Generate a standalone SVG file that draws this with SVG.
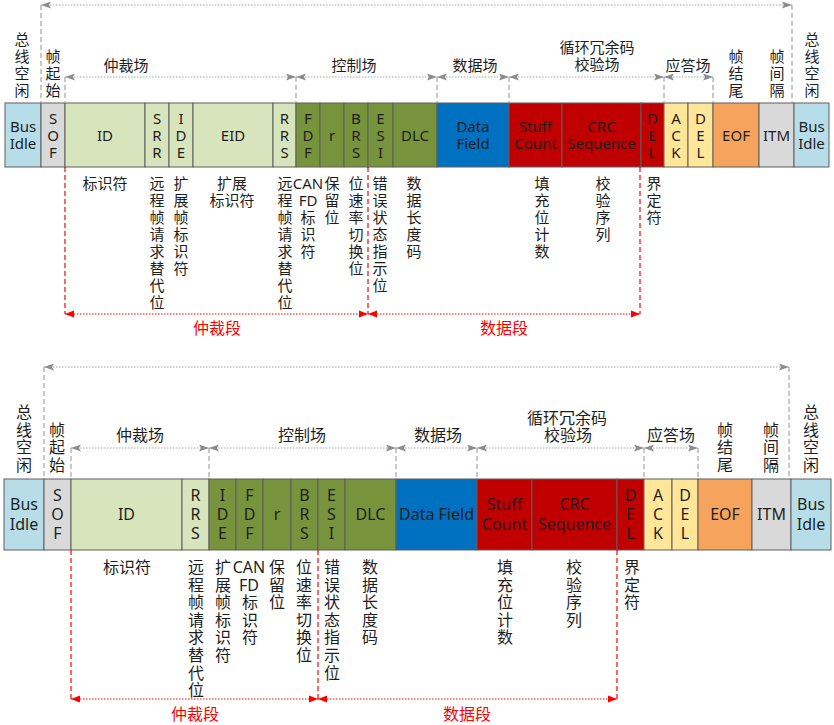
<svg xmlns="http://www.w3.org/2000/svg" width="834" height="725" viewBox="0 0 834 725">
<defs>
<marker id="ga" viewBox="0 0 10 7" markerWidth="10" markerHeight="7" refX="10" refY="3.5" orient="auto-start-reverse" markerUnits="userSpaceOnUse"><path d="M0,0 L10,3.5 L0,7 L2,3.5 z" fill="#8c8c8c"/></marker>
<marker id="ra" viewBox="0 0 10 8" markerWidth="9" markerHeight="8" refX="10" refY="4" orient="auto-start-reverse" markerUnits="userSpaceOnUse"><path d="M0,0 L10,4 L0,8 z" fill="#ff0000"/></marker>
</defs>
<style>
text{font-family:"Noto Sans","Noto Sans CJK SC",sans-serif;text-anchor:middle;dominant-baseline:central;fill:#1e1e1e}
.s15{font-size:15px}
.s16{font-size:16px}
.lab{font-size:15px}
.red{fill:#ff0000;font-size:16px}
rect{stroke:#5f5f5f;stroke-width:1}
.bi{fill:#b7dee8}.gr{fill:#d9d9d9}.lg{fill:#d8e4bc}.og{fill:#77933c}.bl{fill:#0070c0}.rd{fill:#c00000}.yl{fill:#ffe699}.or{fill:#f6a35e}
.dot{stroke:#a6a6a6;stroke-width:1;stroke-dasharray:1.5 1.5;fill:none}
.dash{stroke:#a6a6a6;stroke-width:1.2;stroke-dasharray:5 3;fill:none}
.rdot{stroke:#ff0000;stroke-width:1;stroke-dasharray:1.5 1.5;fill:none}
.rdash{stroke:#ff0000;stroke-width:1.2;stroke-dasharray:5 3;fill:none}
</style>

<!-- ===== TOP FRAME ===== -->
<g class="s15">
<g id="t-busidle-l"><rect class="bi" x="5" y="103" width="36" height="64"/><text x="23" y="126">Bus</text><text x="23" y="143">Idle</text></g>
<g id="t-sof"><rect class="gr" x="41" y="103" width="24" height="64"/><text x="53" y="118">S</text><text x="53" y="135">O</text><text x="53" y="152">F</text></g>
<g id="t-id"><rect class="lg" x="65" y="103" width="80" height="64"/><text x="105" y="135">ID</text></g>
<g id="t-srr"><rect class="lg" x="145" y="103" width="24" height="64"/><text x="157" y="118">S</text><text x="157" y="135">R</text><text x="157" y="152">R</text></g>
<g id="t-ide"><rect class="lg" x="169" y="103" width="24" height="64"/><text x="181" y="118">I</text><text x="181" y="135">D</text><text x="181" y="152">E</text></g>
<g id="t-eid"><rect class="lg" x="193" y="103" width="80" height="64"/><text x="233" y="135">EID</text></g>
<g id="t-rrs"><rect class="lg" x="273" y="103" width="23" height="64"/><text x="284.5" y="118">R</text><text x="284.5" y="135">R</text><text x="284.5" y="152">S</text></g>
<g id="t-fdf"><rect class="og" x="296" y="103" width="24" height="64"/><text x="308" y="118">F</text><text x="308" y="135">D</text><text x="308" y="152">F</text></g>
<g id="t-r"><rect class="og" x="320" y="103" width="24" height="64"/><text x="332" y="135">r</text></g>
<g id="t-brs"><rect class="og" x="344" y="103" width="24" height="64"/><text x="356" y="118">B</text><text x="356" y="135">R</text><text x="356" y="152">S</text></g>
<g id="t-esi"><rect class="og" x="368" y="103" width="25" height="64"/><text x="380.5" y="118">E</text><text x="380.5" y="135">S</text><text x="380.5" y="152">I</text></g>
<g id="t-dlc"><rect class="og" x="393" y="103" width="44" height="64"/><text x="415" y="135">DLC</text></g>
<g id="t-data"><rect class="bl" x="437" y="103" width="72" height="64"/><text x="473" y="126">Data</text><text x="473" y="143">Field</text></g>
<g id="t-stuff"><rect class="rd" x="509" y="103" width="53" height="64"/><text x="535.5" y="126">Stuff</text><text x="535.5" y="143">Count</text></g>
<g id="t-crc"><rect class="rd" x="562" y="103" width="79" height="64"/><text x="601.5" y="126">CRC</text><text x="601.5" y="143">Sequence</text></g>
<g id="t-del1"><rect class="rd" x="641" y="103" width="23" height="64"/><text x="652.5" y="118">D</text><text x="652.5" y="135">E</text><text x="652.5" y="152">L</text></g>
<g id="t-ack"><rect class="yl" x="664" y="103" width="24" height="64"/><text x="676" y="118">A</text><text x="676" y="135">C</text><text x="676" y="152">K</text></g>
<g id="t-del2"><rect class="yl" x="688" y="103" width="25" height="64"/><text x="700.5" y="118">D</text><text x="700.5" y="135">E</text><text x="700.5" y="152">L</text></g>
<g id="t-eof"><rect class="or" x="713" y="103" width="46" height="64"/><text x="736" y="135">EOF</text></g>
<g id="t-itm"><rect class="gr" x="759" y="103" width="35" height="64"/><text x="776.5" y="135">ITM</text></g>
<g id="t-busidle-r"><rect class="bi" x="794" y="103" width="35" height="64"/><text x="811.5" y="126">Bus</text><text x="811.5" y="143">Idle</text></g>
</g>

<!-- top field labels -->
<g id="t-labels" class="lab">
<text x="22" y="39"><tspan x="22">总</tspan><tspan x="22" dy="17">线</tspan><tspan x="22" dy="17">空</tspan><tspan x="22" dy="17">闲</tspan></text>
<text x="53" y="56"><tspan x="53">帧</tspan><tspan x="53" dy="17">起</tspan><tspan x="53" dy="17">始</tspan></text>
<text x="126" y="65">仲裁场</text>
<text x="354" y="65">控制场</text>
<text x="475" y="65">数据场</text>
<text x="597" y="47">循环冗余码</text>
<text x="597" y="64">校验场</text>
<text x="688" y="65">应答场</text>
<text x="736" y="56"><tspan x="736">帧</tspan><tspan x="736" dy="17">结</tspan><tspan x="736" dy="17">尾</tspan></text>
<text x="777" y="56"><tspan x="777">帧</tspan><tspan x="777" dy="17">间</tspan><tspan x="777" dy="17">隔</tspan></text>
<text x="812" y="39"><tspan x="812">总</tspan><tspan x="812" dy="17">线</tspan><tspan x="812" dy="17">空</tspan><tspan x="812" dy="17">闲</tspan></text>
</g>

<!-- top descriptions -->
<g id="t-desc" class="lab">
<text x="105" y="183">标识符</text>
<text x="157" y="183"><tspan x="157">远</tspan><tspan x="157" dy="17">程</tspan><tspan x="157" dy="17">帧</tspan><tspan x="157" dy="17">请</tspan><tspan x="157" dy="17">求</tspan><tspan x="157" dy="17">替</tspan><tspan x="157" dy="17">代</tspan><tspan x="157" dy="17">位</tspan></text>
<text x="181" y="183"><tspan x="181">扩</tspan><tspan x="181" dy="17">展</tspan><tspan x="181" dy="17">帧</tspan><tspan x="181" dy="17">标</tspan><tspan x="181" dy="17">识</tspan><tspan x="181" dy="17">符</tspan></text>
<text x="232" y="183"><tspan x="232">扩展</tspan><tspan x="232" dy="17">标识符</tspan></text>
<text x="285" y="183"><tspan x="285">远</tspan><tspan x="285" dy="17">程</tspan><tspan x="285" dy="17">帧</tspan><tspan x="285" dy="17">请</tspan><tspan x="285" dy="17">求</tspan><tspan x="285" dy="17">替</tspan><tspan x="285" dy="17">代</tspan><tspan x="285" dy="17">位</tspan></text>
<text x="308" y="183"><tspan x="308">CAN</tspan><tspan x="308" dy="17">FD</tspan><tspan x="308" dy="17">标</tspan><tspan x="308" dy="17">识</tspan><tspan x="308" dy="17">符</tspan></text>
<text x="332" y="183"><tspan x="332">保</tspan><tspan x="332" dy="17">留</tspan><tspan x="332" dy="17">位</tspan></text>
<text x="356" y="183"><tspan x="356">位</tspan><tspan x="356" dy="17">速</tspan><tspan x="356" dy="17">率</tspan><tspan x="356" dy="17">切</tspan><tspan x="356" dy="17">换</tspan><tspan x="356" dy="17">位</tspan></text>
<text x="380" y="183"><tspan x="380">错</tspan><tspan x="380" dy="17">误</tspan><tspan x="380" dy="17">状</tspan><tspan x="380" dy="17">态</tspan><tspan x="380" dy="17">指</tspan><tspan x="380" dy="17">示</tspan><tspan x="380" dy="17">位</tspan></text>
<text x="414" y="183"><tspan x="414">数</tspan><tspan x="414" dy="17">据</tspan><tspan x="414" dy="17">长</tspan><tspan x="414" dy="17">度</tspan><tspan x="414" dy="17">码</tspan></text>
<text x="542" y="183"><tspan x="542">填</tspan><tspan x="542" dy="17">充</tspan><tspan x="542" dy="17">位</tspan><tspan x="542" dy="17">计</tspan><tspan x="542" dy="17">数</tspan></text>
<text x="603" y="183"><tspan x="603">校</tspan><tspan x="603" dy="17">验</tspan><tspan x="603" dy="17">序</tspan><tspan x="603" dy="17">列</tspan></text>
<text x="654" y="183"><tspan x="654">界</tspan><tspan x="654" dy="17">定</tspan><tspan x="654" dy="17">符</tspan></text>
<text class="red" x="217" y="328">仲裁段</text>
<text class="red" x="504" y="328">数据段</text>
</g>

<!-- ===== BOTTOM FRAME ===== -->
<g class="s16">
<g id="b-busidle-l"><rect class="bi" x="4" y="479" width="40" height="71"/><text x="24" y="504">Bus</text><text x="24" y="524">Idle</text></g>
<g id="b-sof"><rect class="gr" x="44" y="479" width="27" height="71"/><text x="57.5" y="495">S</text><text x="57.5" y="514">O</text><text x="57.5" y="533">F</text></g>
<g id="b-id"><rect class="lg" x="71" y="479" width="111" height="71"/><text x="126.5" y="514">ID</text></g>
<g id="b-rrs"><rect class="lg" x="182" y="479" width="27" height="71"/><text x="195.5" y="495">R</text><text x="195.5" y="514">R</text><text x="195.5" y="533">S</text></g>
<g id="b-ide"><rect class="og" x="209" y="479" width="27" height="71"/><text x="222.5" y="495">I</text><text x="222.5" y="514">D</text><text x="222.5" y="533">E</text></g>
<g id="b-fdf"><rect class="og" x="236" y="479" width="27" height="71"/><text x="249.5" y="495">F</text><text x="249.5" y="514">D</text><text x="249.5" y="533">F</text></g>
<g id="b-r"><rect class="og" x="263" y="479" width="28" height="71"/><text x="277" y="514">r</text></g>
<g id="b-brs"><rect class="og" x="291" y="479" width="27" height="71"/><text x="304.5" y="495">B</text><text x="304.5" y="514">R</text><text x="304.5" y="533">S</text></g>
<g id="b-esi"><rect class="og" x="318" y="479" width="27" height="71"/><text x="331.5" y="495">E</text><text x="331.5" y="514">S</text><text x="331.5" y="533">I</text></g>
<g id="b-dlc"><rect class="og" x="345" y="479" width="51" height="71"/><text x="370.5" y="514">DLC</text></g>
<g id="b-data"><rect class="bl" x="396" y="479" width="81" height="71"/><text x="436.5" y="514">Data Field</text></g>
<g id="b-stuff"><rect class="rd" x="477" y="479" width="55" height="71"/><text x="504.5" y="504">Stuff</text><text x="504.5" y="524">Count</text></g>
<g id="b-crc"><rect class="rd" x="532" y="479" width="85" height="71"/><text x="574.5" y="504">CRC</text><text x="574.5" y="524">Sequence</text></g>
<g id="b-del1"><rect class="rd" x="617" y="479" width="27" height="71"/><text x="630.5" y="495">D</text><text x="630.5" y="514">E</text><text x="630.5" y="533">L</text></g>
<g id="b-ack"><rect class="yl" x="644" y="479" width="28" height="71"/><text x="658" y="495">A</text><text x="658" y="514">C</text><text x="658" y="533">K</text></g>
<g id="b-del2"><rect class="yl" x="672" y="479" width="26" height="71"/><text x="685" y="495">D</text><text x="685" y="514">E</text><text x="685" y="533">L</text></g>
<g id="b-eof"><rect class="or" x="698" y="479" width="54" height="71"/><text x="725" y="514">EOF</text></g>
<g id="b-itm"><rect class="gr" x="752" y="479" width="39" height="71"/><text x="771.5" y="514">ITM</text></g>
<g id="b-busidle-r"><rect class="bi" x="791" y="479" width="40" height="71"/><text x="811" y="504">Bus</text><text x="811" y="524">Idle</text></g>
</g>

<!-- bottom field labels -->
<g id="b-labels" class="s16">
<text x="24" y="412"><tspan x="24">总</tspan><tspan x="24" dy="17.7">线</tspan><tspan x="24" dy="17.7">空</tspan><tspan x="24" dy="17.7">闲</tspan></text>
<text x="57" y="429.5"><tspan x="57">帧</tspan><tspan x="57" dy="17.7">起</tspan><tspan x="57" dy="17.7">始</tspan></text>
<text x="140" y="435">仲裁场</text>
<text x="302" y="435">控制场</text>
<text x="438" y="435">数据场</text>
<text x="567" y="418">循环冗余码</text>
<text x="568" y="435">校验场</text>
<text x="671" y="435">应答场</text>
<text x="725" y="429.5"><tspan x="725">帧</tspan><tspan x="725" dy="17.7">结</tspan><tspan x="725" dy="17.7">尾</tspan></text>
<text x="771" y="429.5"><tspan x="771">帧</tspan><tspan x="771" dy="17.7">间</tspan><tspan x="771" dy="17.7">隔</tspan></text>
<text x="811" y="412"><tspan x="811">总</tspan><tspan x="811" dy="17.7">线</tspan><tspan x="811" dy="17.7">空</tspan><tspan x="811" dy="17.7">闲</tspan></text>
</g>

<!-- bottom descriptions -->
<g id="b-desc" class="s16">
<text x="127" y="567">标识符</text>
<text x="196" y="567"><tspan x="196">远</tspan><tspan x="196" dy="17.6">程</tspan><tspan x="196" dy="17.6">帧</tspan><tspan x="196" dy="17.6">请</tspan><tspan x="196" dy="17.6">求</tspan><tspan x="196" dy="17.6">替</tspan><tspan x="196" dy="17.6">代</tspan><tspan x="196" dy="17.6">位</tspan></text>
<text x="223" y="567"><tspan x="223">扩</tspan><tspan x="223" dy="17.6">展</tspan><tspan x="223" dy="17.6">帧</tspan><tspan x="223" dy="17.6">标</tspan><tspan x="223" dy="17.6">识</tspan><tspan x="223" dy="17.6">符</tspan></text>
<text x="249" y="567"><tspan x="249">CAN</tspan><tspan x="249" dy="17.6">FD</tspan><tspan x="250" dy="17.6">标</tspan><tspan x="250" dy="17.6">识</tspan><tspan x="250" dy="17.6">符</tspan></text>
<text x="277" y="567"><tspan x="277">保</tspan><tspan x="277" dy="17.6">留</tspan><tspan x="277" dy="17.6">位</tspan></text>
<text x="304" y="567"><tspan x="304">位</tspan><tspan x="304" dy="17.6">速</tspan><tspan x="304" dy="17.6">率</tspan><tspan x="304" dy="17.6">切</tspan><tspan x="304" dy="17.6">换</tspan><tspan x="304" dy="17.6">位</tspan></text>
<text x="332" y="567"><tspan x="332">错</tspan><tspan x="332" dy="17.6">误</tspan><tspan x="332" dy="17.6">状</tspan><tspan x="332" dy="17.6">态</tspan><tspan x="332" dy="17.6">指</tspan><tspan x="332" dy="17.6">示</tspan><tspan x="332" dy="17.6">位</tspan></text>
<text x="370" y="567"><tspan x="370">数</tspan><tspan x="370" dy="17.6">据</tspan><tspan x="370" dy="17.6">长</tspan><tspan x="370" dy="17.6">度</tspan><tspan x="370" dy="17.6">码</tspan></text>
<text x="505" y="567"><tspan x="505">填</tspan><tspan x="505" dy="17.6">充</tspan><tspan x="505" dy="17.6">位</tspan><tspan x="505" dy="17.6">计</tspan><tspan x="505" dy="17.6">数</tspan></text>
<text x="574" y="567"><tspan x="574">校</tspan><tspan x="574" dy="17.6">验</tspan><tspan x="574" dy="17.6">序</tspan><tspan x="574" dy="17.6">列</tspan></text>
<text x="632" y="567"><tspan x="632">界</tspan><tspan x="632" dy="17.6">定</tspan><tspan x="632" dy="17.6">符</tspan></text>
<text class="red" x="195" y="714">仲裁段</text>
<text class="red" x="467" y="714">数据段</text>
</g>

<!-- ===== CONNECTORS ===== -->
<g id="connectors">
<!-- top frame -->
<path class="dash" d="M41,5 V103 M792,5 V103"/>
<line class="dot" x1="41" y1="5" x2="792" y2="5" marker-start="url(#ga)" marker-end="url(#ga)"/>
<path class="dash" d="M65,77 V103 M296,77 V103 M437,77 V103 M509,77 V103 M664,77 V103 M713,77 V103"/>
<line class="dot" x1="65" y1="77" x2="296" y2="77" marker-start="url(#ga)" marker-end="url(#ga)"/>
<line class="dot" x1="296" y1="77" x2="437" y2="77" marker-start="url(#ga)" marker-end="url(#ga)"/>
<line class="dot" x1="437" y1="77" x2="509" y2="77" marker-start="url(#ga)" marker-end="url(#ga)"/>
<line class="dot" x1="509" y1="77" x2="664" y2="77" marker-start="url(#ga)" marker-end="url(#ga)"/>
<line class="dot" x1="664" y1="77" x2="713" y2="77" marker-start="url(#ga)" marker-end="url(#ga)"/>
<path class="rdash" d="M65,167 V314 M368,167 V314 M640,167 V314"/>
<line class="rdot" x1="65" y1="314" x2="368" y2="314" marker-start="url(#ra)" marker-end="url(#ra)"/>
<line class="rdot" x1="368" y1="314" x2="640" y2="314" marker-start="url(#ra)" marker-end="url(#ra)"/>
<!-- bottom frame -->
<path class="dash" d="M44,367 V479 M789,367 V479"/>
<line class="dot" x1="44" y1="367" x2="789" y2="367" marker-start="url(#ga)" marker-end="url(#ga)"/>
<path class="dash" d="M71,448 V479 M209,448 V479 M396,448 V479 M477,448 V479 M644,448 V479 M698,448 V479"/>
<line class="dot" x1="71" y1="448" x2="209" y2="448" marker-start="url(#ga)" marker-end="url(#ga)"/>
<line class="dot" x1="209" y1="448" x2="396" y2="448" marker-start="url(#ga)" marker-end="url(#ga)"/>
<line class="dot" x1="396" y1="448" x2="477" y2="448" marker-start="url(#ga)" marker-end="url(#ga)"/>
<line class="dot" x1="477" y1="448" x2="644" y2="448" marker-start="url(#ga)" marker-end="url(#ga)"/>
<line class="dot" x1="644" y1="448" x2="698" y2="448" marker-start="url(#ga)" marker-end="url(#ga)"/>
<path class="rdash" d="M71,550 V699 M318,550 V699 M617,550 V699"/>
<line class="rdot" x1="71" y1="699" x2="318" y2="699" marker-start="url(#ra)" marker-end="url(#ra)"/>
<line class="rdot" x1="318" y1="699" x2="617" y2="699" marker-start="url(#ra)" marker-end="url(#ra)"/>
</g>
</svg>
